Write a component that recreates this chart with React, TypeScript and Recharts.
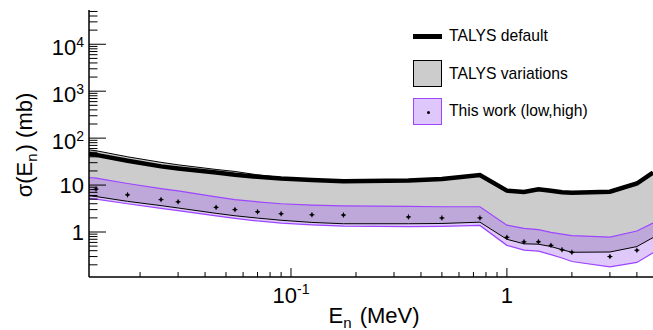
import React from "react"
import { ComposedChart, XAxis, YAxis, Area, Line, Scatter, Legend } from "recharts"

const FONT = '"Liberation Sans", Arial, Helvetica, sans-serif'
const PURPLE = "#9d45ff"

// model grid (MeV) and curves (mb)
const energies = [0.0116, 0.0125, 0.0175, 0.025, 0.03, 0.045, 0.055, 0.07, 0.09, 0.125, 0.175, 0.35, 0.5, 0.75, 1.0, 1.2, 1.4, 1.6, 1.8, 2.0, 3.0, 4.0, 4.75]
const talysDefault = [46, 44, 33, 25, 22.5, 18.5, 16.6, 15, 13.8, 12.8, 12, 12.5, 13.5, 16.3, 7.6, 7.1, 8.1, 7.6, 7.0, 6.9, 7.2, 10.8, 18.5]
const talysMax = [56, 54, 40, 30.5, 27, 21.5, 19.5, 16.5, 14.5, 13, 12, 12.5, 13.5, 16.3, 7.6, 7.1, 8.1, 7.6, 7.0, 6.9, 7.2, 10.8, 18.5]
const talysMin = [5.9, 5.7, 4.5, 3.65, 3.25, 2.5, 2.22, 1.98, 1.78, 1.6, 1.5, 1.5, 1.52, 1.62, 0.7, 0.56, 0.55, 0.49, 0.42, 0.37, 0.375, 0.49, 0.76]
const workHigh = [14.5, 14, 10.8, 8.4, 7.5, 5.6, 4.9, 4.4, 4.0, 3.75, 3.6, 3.5, 3.45, 3.45, 1.4, 1.2, 1.12, 0.98, 0.9, 0.84, 0.78, 1.05, 1.55]
const workLow = [5.2, 5.0, 4.0, 3.2, 2.85, 2.2, 1.95, 1.72, 1.55, 1.42, 1.33, 1.3, 1.32, 1.38, 0.52, 0.41, 0.39, 0.33, 0.28, 0.235, 0.18, 0.225, 0.36]

// this work, points
const pointEnergies = [0.0125, 0.0175, 0.025, 0.03, 0.045, 0.055, 0.07, 0.09, 0.125, 0.175, 0.35, 0.5, 0.75, 1.0, 1.2, 1.4, 1.6, 1.8, 2.0, 3.0, 4.0]
const pointValues = [8.2, 6.2, 4.9, 4.4, 3.35, 3.0, 2.7, 2.45, 2.33, 2.3, 2.1, 2.0, 2.0, 0.77, 0.62, 0.62, 0.52, 0.42, 0.37, 0.3, 0.41]

const xMajorTicks = [0.1, 1]
const xTickBase = ["10", "1"]
const xTickExp = ["-1", ""]
const yMajorTicks = [1, 10, 100, 1000, 10000]
const yTickBase = ["1", "10", "10", "10", "10"]
const yTickExp = ["", "", "2", "3", "4"]

const X_DOMAIN: [number, number] = [0.0116, 4.75]
const Y_DOMAIN: [number, number] = [0.11, 53700]

const curve = energies.map((e, i) => ({
  e,
  def: talysDefault[i],
  max: talysMax[i],
  min: talysMin[i],
  hi: workHigh[i],
  lo: workLow[i],
}))
const points = pointEnergies.map((e, i) => ({ e, s: pointValues[i] }))

function logTicks(majors: number[], [lo, hi]: [number, number]) {
  const out = majors.filter((v) => v >= lo && v <= hi)
  for (let d = Math.floor(Math.log10(lo)); d <= Math.ceil(Math.log10(hi)); d++) {
    for (let m = 2; m <= 9; m++) {
      const v = m * Math.pow(10, d)
      if (v >= lo && v <= hi) out.push(v)
    }
  }
  return out.sort((a, b) => a - b)
}

function YTick(props: any) {
  const { x, y, payload } = props
  const i = yMajorTicks.indexOf(payload.value)
  const major = i >= 0
  return (
    <g>
      <line x1={x} x2={x + (major ? 17 : 8.5)} y1={y} y2={y} stroke="#000" strokeWidth={1} />
      {major && (
        <text x={x - 5} y={y + (yTickExp[i] ? 10.5 : 8)} textAnchor="end" fontSize={22} fontFamily={FONT} fill="#000">
          {yTickBase[i]}
          {yTickExp[i] && (
            <tspan dy={-8} fontSize={14}>
              {yTickExp[i]}
            </tspan>
          )}
        </text>
      )}
    </g>
  )
}

function XTick(props: any) {
  const { x, y, payload } = props
  const i = xMajorTicks.indexOf(payload.value)
  const major = i >= 0
  return (
    <g>
      <line x1={x} x2={x} y1={y} y2={y - (major ? 9 : 5)} stroke="#000" strokeWidth={1} />
      {major && (
        <text x={x} y={y + 26} textAnchor="middle" fontSize={22} fontFamily={FONT} fill="#000">
          {xTickBase[i]}
          {xTickExp[i] && (
            <tspan dy={-9} fontSize={14}>
              {xTickExp[i]}
            </tspan>
          )}
        </text>
      )}
    </g>
  )
}

const YTitle = () => (
  <text transform="rotate(-90, 31.5, 145)" x={31.5} y={145} textAnchor="middle" fontSize={22} fontFamily={FONT} fill="#000">
    σ(E
    <tspan dy={5} fontSize={15}>n</tspan>
    <tspan dy={-5} dx={2}>) (mb)</tspan>
  </text>
)

const XTitle = () => (
  <text x={374} y={323} textAnchor="middle" fontSize={22} fontFamily={FONT} fill="#000">
    E
    <tspan dy={5} fontSize={15}>n</tspan>
    <tspan dy={-5} dx={2}> (MeV)</tspan>
  </text>
)

function PointMark(props: any) {
  const { cx, cy } = props
  return (
    <g>
      <line x1={cx - 2.5} x2={cx + 2.5} y1={cy} y2={cy} stroke="#000" strokeWidth={1} />
      <line x1={cx} x2={cx} y1={cy - 2.5} y2={cy + 2.5} stroke="#000" strokeWidth={1} />
      <circle cx={cx} cy={cy} r={1.5} fill="#000" />
    </g>
  )
}

function LegendBox() {
  const text: React.CSSProperties = {
    position: "absolute",
    left: 36,
    lineHeight: "20px",
    fontSize: 15.7,
    fontFamily: FONT,
    color: "#000",
    whiteSpace: "nowrap",
  }
  return (
    <div style={{ position: "relative", width: 240, height: 110 }}>
      <div style={{ position: "absolute", left: 0, top: 13.5, width: 29, height: 5, background: "#000" }} />
      <div style={{ ...text, top: 6 }}>TALYS default</div>
      <div
        style={{
          position: "absolute",
          left: 0,
          top: 40,
          width: 29,
          height: 27,
          boxSizing: "border-box",
          background: "#cccccc",
          border: "1px solid #000",
        }}
      />
      <div style={{ ...text, top: 44 }}>TALYS variations</div>
      <div
        style={{
          position: "absolute",
          left: 0,
          top: 78,
          width: 29,
          height: 27,
          boxSizing: "border-box",
          background: "#dec7fb",
          border: `1px solid ${PURPLE}`,
        }}
      >
        <div style={{ position: "absolute", left: 12.5, top: 11.5, width: 3, height: 3, borderRadius: 2, background: "#000" }} />
      </div>
      <div style={{ ...text, top: 81 }}>This work (low,high)</div>
    </div>
  )
}

export default function App() {
  return (
    <div style={{ width: 653, height: 330, background: "#fff" }}>
      <style>{"body{margin:0}"}</style>
      <ComposedChart width={653} height={330} data={curve} margin={{ top: 10, right: 0, bottom: 0, left: 0 }}>
        <XAxis
          dataKey="e"
          type="number"
          scale="log"
          domain={X_DOMAIN}
          allowDataOverflow
          ticks={logTicks(xMajorTicks, X_DOMAIN)}
          interval={0}
          tickSize={0}
          tickMargin={0}
          tickLine={false}
          tick={(p: any) => <XTick {...p} />}
          axisLine={{ stroke: "#000", strokeWidth: 1.5 }}
          height={53}
          label={<XTitle />}
        />
        <XAxis
          xAxisId="top"
          orientation="top"
          dataKey="e"
          type="number"
          scale="log"
          domain={X_DOMAIN}
          allowDataOverflow
          height={0}
          tick={false}
          tickLine={false}
          axisLine={{ stroke: "#000", strokeWidth: 1.5 }}
        />
        <YAxis
          type="number"
          scale="log"
          domain={Y_DOMAIN}
          allowDataOverflow
          ticks={logTicks(yMajorTicks, Y_DOMAIN)}
          interval={0}
          tickSize={0}
          tickMargin={0}
          tickLine={false}
          tick={(p: any) => <YTick {...p} />}
          axisLine={{ stroke: "#000", strokeWidth: 1.5 }}
          width={89}
          label={<YTitle />}
        />
        <Area
          dataKey={(d: any) => [d.min, d.max]}
          type="linear"
          fill="#cccccc"
          fillOpacity={1}
          stroke="none"
          isAnimationActive={false}
        />
        <Area
          dataKey={(d: any) => [d.lo, d.hi]}
          type="linear"
          fill="rgb(164,99,244)"
          fillOpacity={0.35}
          stroke={PURPLE}
          strokeWidth={1.2}
          isAnimationActive={false}
        />
        <Line dataKey="min" type="linear" stroke="#000" strokeWidth={1} dot={false} isAnimationActive={false} />
        <Line dataKey="max" type="linear" stroke="#000" strokeWidth={1} dot={false} isAnimationActive={false} />
        <Line dataKey="def" type="linear" stroke="#000" strokeWidth={4.5} dot={false} isAnimationActive={false} />
        <Scatter data={points} dataKey="s" shape={PointMark} isAnimationActive={false} />
        <Legend
          layout="vertical"
          align="center"
          verticalAlign="middle"
          wrapperStyle={{ left: 413, top: 20, width: 240, height: 110 }}
          content={() => <LegendBox />}
        />
      </ComposedChart>
    </div>
  )
}
